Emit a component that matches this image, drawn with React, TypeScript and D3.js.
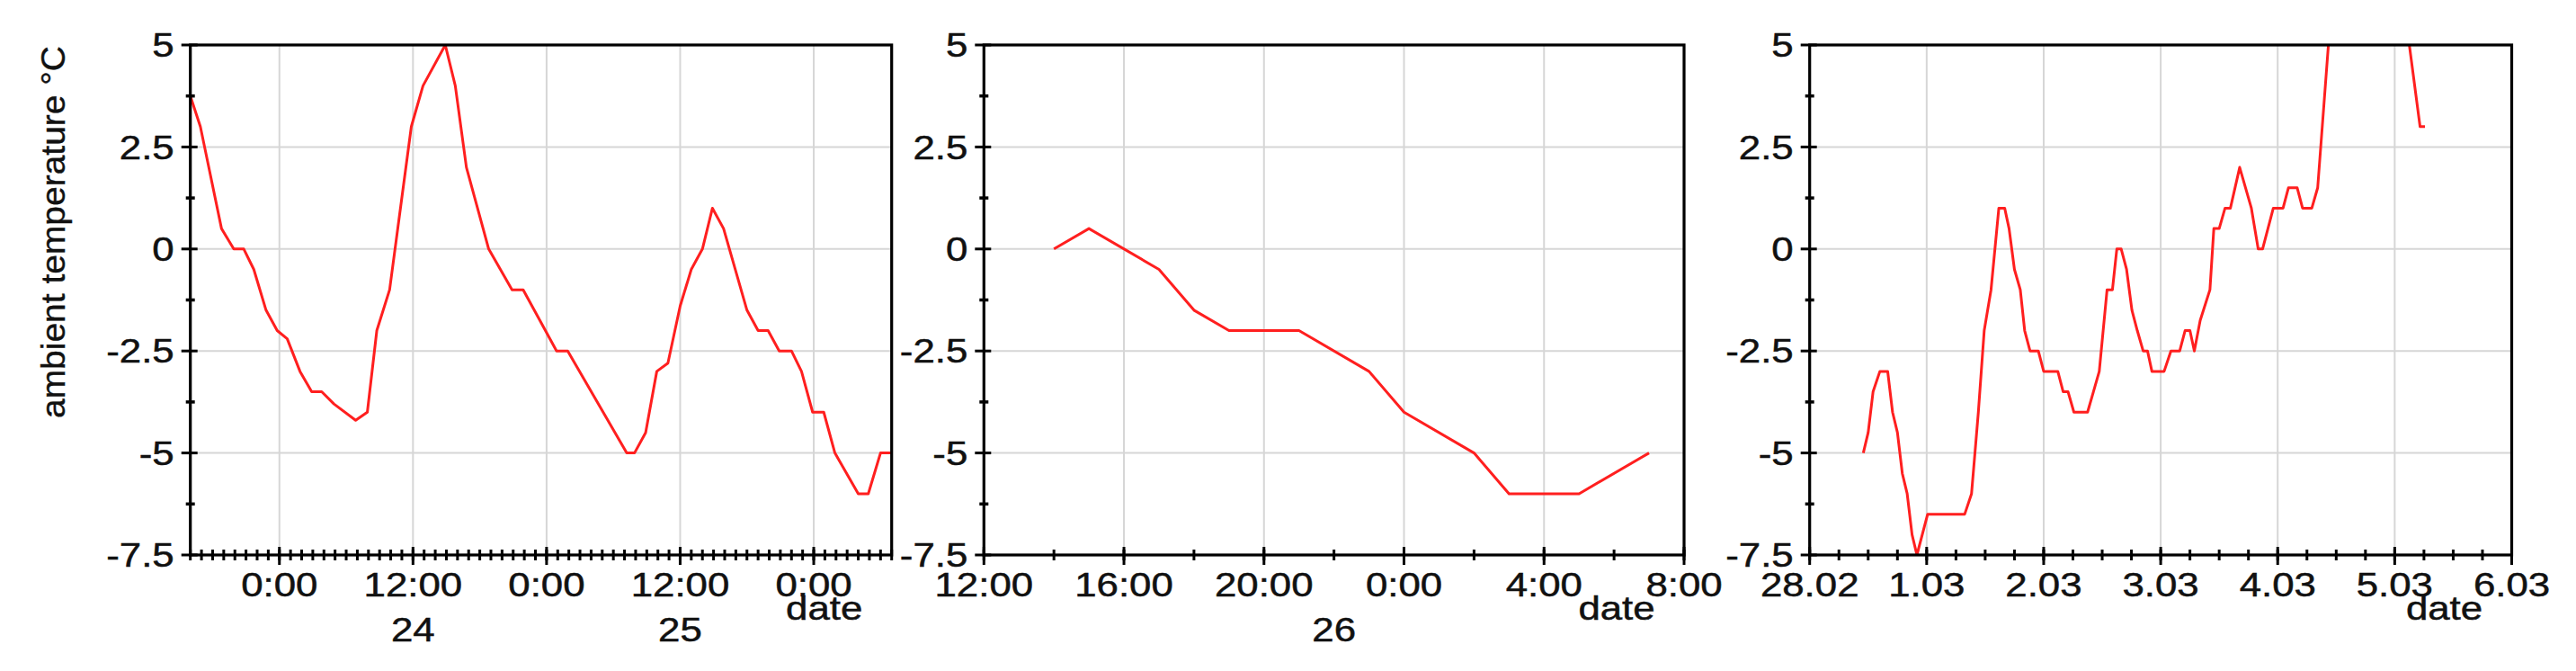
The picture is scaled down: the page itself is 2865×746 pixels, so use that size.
import React from "react";
import * as d3 from "d3";

// ---------- data ----------
const yTicks = [5, 2.5, 0, -2.5, -5, -7.5];
const yTickLabels = ["5", "2.5", "0", "-2.5", "-5", "-7.5"];
const yMinorTicks = [3.75, 1.25, -1.25, -3.75, -6.25];

// Panel 1: hours since 2018-02-23 16:00
const p1Start = "2018-02-23T16:00:00Z";
const p1End = "2018-02-26T07:00:00Z";
const p1Hours = [0, 0.9, 2.8, 3.9, 4.8, 5.7, 6.8, 7.8, 8.7, 9.85, 10.9, 11.8, 12.9, 14.85, 15.9, 16.75, 17.9, 19.85, 20.9, 22.9, 23.8, 24.8, 26.8, 28.9, 29.9, 32.9, 33.9, 39.2, 39.9, 40.9, 41.9, 42.9, 44.0, 45.0, 46.0, 46.9, 47.9, 50.0, 51.0, 51.9, 52.9, 54.0, 54.9, 55.9, 56.9, 57.9, 60.0, 60.9, 62.0, 63.0];
const p1Values = [3.75, 3, 0.5, 0, 0, -0.5, -1.5, -2, -2.2, -3, -3.5, -3.5, -3.8, -4.2, -4, -2, -1, 3, 4, 5, 4, 2, 0, -1, -1, -2.5, -2.5, -5, -5, -4.5, -3, -2.8, -1.4, -0.5, 0, 1, 0.5, -1.5, -2, -2, -2.5, -2.5, -3, -4, -4, -5, -6, -6, -5, -5];
const p1DayLabels = ["24", "25"];
const p1DayLabelTimes = ["2018-02-24T12:00:00Z", "2018-02-25T12:00:00Z"];

// Panel 2: hours since 2018-02-26 12:00
const p2Start = "2018-02-26T12:00:00Z";
const p2End = "2018-02-27T08:00:00Z";
const p2Hours = [2, 3, 5, 6, 7, 9, 11, 12, 14, 15, 17, 19];
const p2Values = [0, 0.5, -0.5, -1.5, -2, -2, -3, -4, -5, -6, -6, -5];
const p2DayLabels = ["26"];
const p2DayLabelTimes = ["2018-02-26T22:00:00Z"];

// Panel 3: hours since 2018-02-28 00:00
const p3Start = "2018-02-28T00:00:00Z";
const p3End = "2018-03-06T00:00:00Z";
const p3Hours = [11, 12, 13, 14.4, 16, 17, 18, 19, 20, 21, 22, 24.2, 31.8, 33.2, 34.6, 35.8, 37.2, 38.8, 40, 40.9, 42, 43.2, 44.1, 45.2, 46.9, 48, 50.9, 52, 53, 54.2, 57, 58.2, 59.4, 61, 62.1, 63, 63.9, 65, 66.1, 67.2, 68.4, 69.3, 70.2, 72.7, 74.1, 75.9, 77, 78, 78.9, 80.1, 82.1, 82.9, 84, 85.2, 86.3, 88.2, 90.6, 92, 92.9, 95.1, 97.1, 98.2, 100, 101.1, 103, 104.2, 106.4, 108, 115, 121, 123, 125.2, 126.2];
const p3Values = [-5, -4.5, -3.5, -3, -3, -4, -4.5, -5.5, -6, -7, -7.5, -6.5, -6.5, -6, -4, -2, -1, 1, 1, 0.5, -0.5, -1, -2, -2.5, -2.5, -3, -3, -3.5, -3.5, -4, -4, -3.5, -3, -1, -1, 0, 0, -0.5, -1.5, -2, -2.5, -2.5, -3, -3, -2.5, -2.5, -2, -2, -2.5, -1.75, -1, 0.5, 0.5, 1, 1, 2, 1, 0, 0, 1, 1, 1.5, 1.5, 1, 1, 1.5, 5, 7.5, 8, 6.8, 5, 3, 3];

const yTitle = "ambient temperature °C";
const xTitle = "date";

// ---------- style / layout ----------
const FONT = "'Liberation Sans', Arial, Helvetica, sans-serif";
const STRETCH = 1.2;
const FS = 36.5;
const TOP = 50;
const BOTTOM = 617;
const RED = "#ff1f1f";
const GRID = "#d6d6d6";
const INK = "#111";

type PanelProps = {
  id: string;
  left: number;
  right: number;
  start: string;
  end: string;
  hours: number[];
  values: number[];
  major: Date[];
  minor: Date[];
  fmt: (d: Date) => string;
  labelEdges: boolean;
  dayLabels: string[];
  dayTimes: string[];
  showTitle?: boolean;
};

const SText = (p: { x: number; y: number; anchor?: string; size?: number; dy?: string; children: any }) => (
  <text
    transform={`translate(${p.x},${p.y}) scale(${STRETCH},1)`}
    textAnchor={p.anchor || "middle"}
    fontSize={p.size || FS}
    fontFamily={FONT}
    dy={p.dy}
    fill={INK}
    stroke={INK}
    strokeWidth={0.5}
  >
    {p.children}
  </text>
);

function Panel(props: PanelProps) {
  const t0 = new Date(props.start);
  const t1 = new Date(props.end);
  const x = d3.scaleUtc().domain([t0, t1]).range([props.left, props.right]);
  const y = d3.scaleLinear().domain([-7.5, 5]).range([BOTTOM, TOP]);
  const pts = props.hours.map((h, i) => ({ t: new Date(t0.getTime() + h * 3600e3), v: props.values[i] }));
  const line = d3
    .line<{ t: Date; v: number }>()
    .x((d) => x(d.t))
    .y((d) => y(d.v));
  const eps = 1;
  const isEdge = (d: Date) => Math.abs(d.getTime() - t0.getTime()) < eps || Math.abs(d.getTime() - t1.getTime()) < eps;
  return (
    <g>
      <defs>
        <clipPath id={props.id}>
          <rect x={props.left} y={TOP} width={props.right - props.left} height={BOTTOM - TOP} />
        </clipPath>
      </defs>
      {props.major.filter((d) => !isEdge(d)).map((d, i) => (
        <line key={"gx" + i} x1={x(d)} x2={x(d)} y1={TOP} y2={BOTTOM} stroke={GRID} strokeWidth={2} />
      ))}
      {yTicks.filter((v) => v !== 5 && v !== -7.5).map((v, i) => (
        <line key={"gy" + i} x1={props.left} x2={props.right} y1={y(v)} y2={y(v)} stroke={GRID} strokeWidth={2} />
      ))}
      <path d={line(pts) || ""} fill="none" stroke={RED} strokeWidth={3} strokeLinejoin="round" clipPath={`url(#${props.id})`} />
      <rect x={props.left} y={TOP} width={props.right - props.left} height={BOTTOM - TOP} fill="none" stroke="#000" strokeWidth={3.2} />
      {yTicks.map((v, i) => (
        <g key={"yt" + i}>
          <line x1={props.left - 10} x2={props.left + 8} y1={y(v)} y2={y(v)} stroke="#000" strokeWidth={3} />
          <SText x={props.left - 18} y={y(v)} anchor="end" dy="0.36em">{yTickLabels[i]}</SText>
        </g>
      ))}
      {yMinorTicks.map((v, i) => (
        <line key={"ym" + i} x1={props.left - 5} x2={props.left + 5} y1={y(v)} y2={y(v)} stroke="#000" strokeWidth={3.5} />
      ))}
      {props.minor.map((d, i) => (
        <line key={"xm" + i} x1={x(d)} x2={x(d)} y1={BOTTOM - 6} y2={BOTTOM + 6} stroke="#000" strokeWidth={3} />
      ))}
      {props.major.map((d, i) => (
        <g key={"xt" + i}>
          <line x1={x(d)} x2={x(d)} y1={BOTTOM - 9} y2={BOTTOM + 11} stroke="#000" strokeWidth={3} />
          {(props.labelEdges || !isEdge(d)) && <SText x={x(d)} y={663}>{props.fmt(d)}</SText>}
        </g>
      ))}
      {props.dayLabels.map((s, i) => (
        <SText key={"dl" + i} x={x(new Date(props.dayTimes[i]))} y={713}>{s}</SText>
      ))}
      <SText x={props.right - 75} y={689}>{xTitle}</SText>
      {props.showTitle && (
        <text
          transform={`translate(72,258) rotate(-90)`}
          textAnchor="middle"
          fontSize={37}
          fontFamily={FONT}
          textLength={414}
          lengthAdjust="spacingAndGlyphs"
          fill={INK}
          stroke={INK}
          strokeWidth={0.4}
        >
          {yTitle}
        </text>
      )}
    </g>
  );
}

const inclusive = (interval: d3.CountableTimeInterval | null, a: string, b: string) =>
  interval ? interval.range(new Date(a), new Date(new Date(b).getTime() + 1)) : [];

export default function App() {
  const hm = d3.utcFormat("%-H:%M");
  const dm = d3.utcFormat("%-d.%m");
  return (
    <svg width={2865} height={746} style={{ position: "absolute", left: 0, top: 0, background: "#fff" }}>
      <rect x={0} y={0} width={2865} height={746} fill="#fff" />
      <Panel
        id="c1"
        left={211.7}
        right={991.7}
        start={p1Start}
        end={p1End}
        hours={p1Hours}
        values={p1Values}
        major={inclusive(d3.utcHour.every(12), p1Start, p1End)}
        minor={inclusive(d3.utcHour.every(1), p1Start, p1End)}
        fmt={hm}
        labelEdges={false}
        dayLabels={p1DayLabels}
        dayTimes={p1DayLabelTimes}
        showTitle
      />
      <Panel
        id="c2"
        left={1094.3}
        right={1873}
        start={p2Start}
        end={p2End}
        hours={p2Hours}
        values={p2Values}
        major={inclusive(d3.utcHour.every(4), p2Start, p2End)}
        minor={inclusive(d3.utcHour.every(2), p2Start, p2End)}
        fmt={hm}
        labelEdges={true}
        dayLabels={p2DayLabels}
        dayTimes={p2DayLabelTimes}
      />
      <Panel
        id="c3"
        left={2012.7}
        right={2793.5}
        start={p3Start}
        end={p3End}
        hours={p3Hours}
        values={p3Values}
        major={inclusive(d3.utcDay.every(1), p3Start, p3End)}
        minor={inclusive(d3.utcHour.every(6), p3Start, p3End)}
        fmt={dm}
        labelEdges={true}
        dayLabels={[]}
        dayTimes={[]}
      />
    </svg>
  );
}
